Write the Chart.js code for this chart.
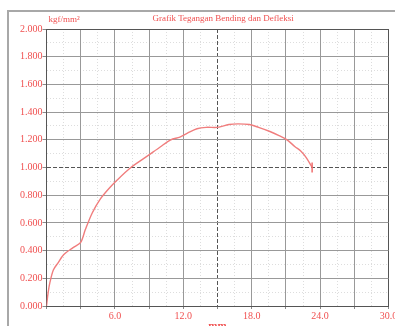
<!DOCTYPE html>
<html>
<head>
<meta charset="utf-8">
<script src="https://cdn.jsdelivr.net/npm/chart.js@4/dist/chart.umd.min.js"></script>
<style>
  html, body { margin: 0; padding: 0; background: #fff; }
  canvas { display: block; }
</style>
</head>
<body>
<canvas id="chart" width="395" height="326"></canvas>
<script>
  // deflection (mm) vs bending stress (kgf/mm2)
  var defleksi = [0.0, 0.15, 0.3, 0.6, 1.0, 1.5, 2.3, 3.0, 3.4, 4.0, 4.7, 5.5, 6.2, 7.4,
                  8.8, 10.0, 10.9, 11.7, 12.4, 13.2, 14.0, 15.0, 16.0, 16.8, 17.8, 18.6,
                  19.6, 20.4, 21.1, 21.8, 22.3, 22.8, 23.3];
  var tegangan = [0.000, 0.10, 0.17, 0.26, 0.31, 0.37, 0.42, 0.46, 0.55, 0.67, 0.77, 0.85,
                  0.91, 1.00, 1.08, 1.15, 1.20, 1.22, 1.25, 1.28, 1.29, 1.29, 1.31, 1.315,
                  1.31, 1.29, 1.26, 1.23, 1.20, 1.15, 1.12, 1.07, 1.00];
  var xTicks = [6, 12, 18, 24, 30];

  var merah = '#f05050';
  var points = defleksi.map(function (d, i) { return { x: d, y: tegangan[i] }; });

  var frame = {
    id: 'frame',
    beforeDraw: function (chart) {
      var c = chart.ctx;
      c.save();
      c.fillStyle = '#fff';
      c.fillRect(0, 0, chart.width, chart.height);
      c.strokeStyle = '#a8a8a8';
      c.lineWidth = 2;
      c.strokeRect(8, 11, chart.width + 20, chart.height + 20);
      c.restore();
    },
    afterDraw: function (chart) {
      var a = chart.chartArea, c = chart.ctx;
      c.save();
      c.fillStyle = merah;
      c.font = '9px "Liberation Serif", serif';
      c.textBaseline = 'alphabetic';
      c.fillText('kgf/mm²', a.left + 2, a.top - 7);
      c.fillText('Grafik Tegangan Bending dan Defleksi', a.left + 106, a.top - 8);
      c.font = 'bold 11px "Liberation Serif", serif';
      c.textAlign = 'center';
      c.fillText('mm', (a.left + a.right) / 2, chart.height + 3);
      c.restore();
    }
  };

  function isMid(c, v) { return !!(c.tick && Math.abs(c.tick.value - v) < 1e-6); }

  var ctx = document.getElementById('chart').getContext('2d');
  window.grafik = new Chart(ctx, {
    type: 'scatter',
    data: {
      datasets: [{
        data: points,
        showLine: true,
        borderColor: 'rgb(240,125,125)',
        borderWidth: 1.4,
        tension: 0.3,
        pointRadius: function (c) { return c.dataIndex === points.length - 1 ? 5 : 0; },
        pointStyle: 'line',
        rotation: 90,
        pointBorderColor: 'rgb(240,110,110)',
        pointBorderWidth: 1.5
      }]
    },
    options: {
      responsive: false,
      animation: false,
      layout: { padding: { left: 0, right: 6.5, top: 29, bottom: 0 } },
      plugins: { legend: { display: false }, tooltip: { enabled: false } },
      scales: {
        x: {
          type: 'linear', min: 0, max: 30,
          afterFit: function (s) { s.height = 20; s.paddingLeft = 0; s.paddingRight = 0; },
          ticks: {
            stepSize: 3, autoSkip: false, maxRotation: 0, padding: 1,
            color: merah, font: { family: 'Liberation Serif', size: 10 },
            callback: function (v) { return xTicks.indexOf(v) >= 0 ? v.toFixed(1) : ''; }
          },
          grid: {
            color: function (c) { return (isMid(c, 0) || isMid(c, 30)) ? '#555' : (isMid(c, 15) ? '#555' : '#999'); },
            lineWidth: 1, tickLength: 3, tickColor: '#888'
          },
          border: {
            color: '#555',
            dash: function (c) { return isMid(c, 15) ? [4, 2] : []; }
          }
        },
        y: {
          type: 'linear', min: 0, max: 2,
          afterFit: function (s) { s.width = 46.5; s.paddingTop = 0; s.paddingBottom = 0; },
          ticks: {
            stepSize: 0.2, padding: 0, autoSkip: false,
            color: merah, font: { family: 'Liberation Serif', size: 10 },
            callback: function (v) { return v.toFixed(3); }
          },
          grid: {
            color: function (c) { return (isMid(c, 0) || isMid(c, 2)) ? '#555' : (isMid(c, 1) ? '#555' : '#999'); },
            lineWidth: 1, tickLength: 4, tickColor: '#888'
          },
          border: {
            color: '#555',
            dash: function (c) { return isMid(c, 1) ? [4, 2] : []; }
          }
        },
        x2: {
          type: 'linear', min: 0, max: 30, position: 'bottom',
          afterFit: function (s) { s.height = 0; s.paddingLeft = 0; s.paddingRight = 0; },
          ticks: { stepSize: 1.5, display: false },
          grid: { color: '#dddddd', drawTicks: false, z: -2 },
          border: { display: false, dash: [1, 2] }
        },
        y2: {
          type: 'linear', min: 0, max: 2, position: 'left',
          afterFit: function (s) { s.width = 0; s.paddingTop = 0; s.paddingBottom = 0; },
          ticks: { stepSize: 0.1, display: false, autoSkip: false },
          grid: { color: '#dddddd', drawTicks: false, z: -2 },
          border: { display: false, dash: [1, 2] }
        }
      }
    },
    plugins: [frame]
  });
</script>
</body>
</html>
